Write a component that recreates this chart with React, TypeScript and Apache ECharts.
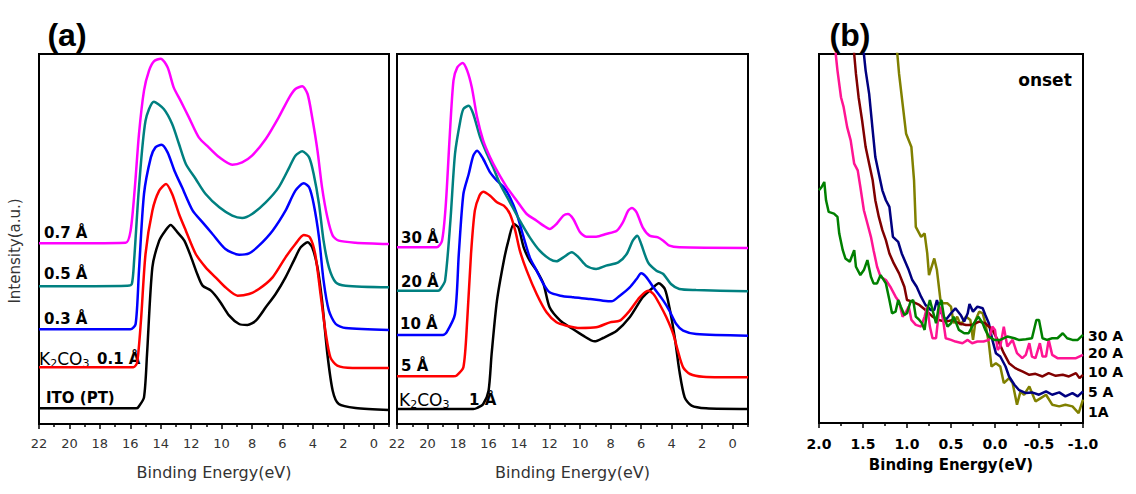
import React, { useEffect, useRef } from "react";
import * as echarts from "echarts";

// ---------- Panel (a) left: ITO / K2CO3 thin layers ----------
const A_07: number[][] = [[22,54.2],[16.3,54.4],[15.98,58],[15.7,71],[15.43,87],[15.1,100],[14.77,106],[14.45,108.8],[14.0,109.6],[13.55,107],[13.15,101],[12.7,97],[12.15,92],[11.5,86],[10.85,83],[10.15,80],[9.3,77.8],[8.65,78.5],[8.0,80.5],[7.1,85.5],[6.25,92],[5.55,98],[5.15,100.5],[4.7,101.3],[4.35,99],[4.05,92],[3.7,82],[3.4,71],[3.05,62],[2.7,56.5],[2.3,55],[1.2,54.4],[-1,54]];
const A_05: number[][] = [[22,41.3],[16.2,41.5],[15.9,42],[15.75,49],[15.43,71],[15.0,91],[14.45,96.7],[13.8,94.5],[13.25,90],[12.8,84],[12.35,78],[11.7,73.5],[11.05,69],[10.15,65],[9.3,62.5],[8.65,61.8],[8.0,63],[7.1,66.5],[6.25,71],[5.55,77],[5.15,80.5],[4.7,81.8],[4.25,80],[3.95,75],[3.6,66],[3.3,55],[2.95,47],[2.5,42.5],[1.85,41.5],[-1,41]];
const A_03: number[][] = [[22,28.4],[16.0,28.4],[15.65,30],[15.43,46],[15.1,69],[14.65,80],[14.35,83],[13.95,83.8],[13.55,81.5],[13.1,76],[12.6,71],[11.9,64],[11.25,60.5],[10.6,57],[9.75,52.5],[8.85,50.8],[8.2,51.2],[7.55,53.5],[6.65,58],[5.8,64],[5.15,70],[4.6,72.2],[4.25,71],[3.95,66],[3.6,56],[3.3,43],[2.95,34],[2.5,30],[1.85,28.8],[-1,28.2]];
const A_01: number[][] = [[22,17],[15.8,17],[15.55,18.5],[15.3,31],[15.0,51],[14.55,64],[14.1,70],[13.65,72],[13.25,69],[12.8,63],[12.35,58],[11.7,51],[11.05,47],[10.4,44],[9.75,41],[8.95,38.5],[8.2,39],[7.55,40.5],[6.65,44],[5.8,50],[5.15,54],[4.6,56.7],[4.2,56],[3.85,51],[3.5,39],[3.15,27],[2.85,20],[2.4,17.5],[1.4,16.8],[-1,16.8]];
const A_ITO: number[][] = [[22,4.7],[15.6,4.7],[15.45,5.2],[15.1,8],[14.9,21],[14.55,47],[14.1,55],[13.7,58],[13.35,59.7],[12.9,57.5],[12.45,55],[12.0,50],[11.6,45],[11.25,41.5],[10.7,40],[10.15,37],[9.5,32.5],[8.85,30],[8.3,29.7],[7.75,31],[7.1,35],[6.45,39],[5.8,44],[5.15,50],[4.8,53],[4.35,54.5],[4.05,53],[3.7,47],[3.4,37],[3.05,21],[2.7,10],[2.3,6],[1.2,4.8],[-1,4.2]];

// ---------- Panel (a) right: thick K2CO3 layers ----------
const B_30: number[][] = [[22,53],[19.4,53],[19.05,55],[18.8,66],[18.55,86],[18.3,103],[18.05,107],[17.7,108.3],[17.4,106],[17.1,101],[16.75,92],[16.35,85],[15.9,80],[15.45,76],[14.8,71],[14.15,67],[13.5,63],[12.85,61],[12.4,59.5],[12.0,58.5],[11.55,60],[11.1,62.5],[10.8,63],[10.45,61.5],[10.0,57.5],[9.6,56.2],[8.95,56.2],[8.3,57],[7.6,58],[7.2,60.5],[6.85,64],[6.6,64.8],[6.3,63.5],[5.9,59],[5.45,56.5],[4.9,56],[4.55,55],[4.15,53.5],[3.5,53],[-1,52.8]];
const B_20: number[][] = [[22,40],[19.3,40],[19.15,40.5],[18.85,43],[18.5,61],[18.2,81],[17.85,91],[17.65,94.5],[17.3,95.5],[17.0,93],[16.55,86],[16.1,81],[15.7,77],[15.25,72],[14.6,66.5],[13.95,61],[13.3,56],[12.65,52],[12.0,49.5],[11.55,48.8],[11.1,50],[10.55,51.5],[10.1,50],[9.6,47.5],[8.95,46.5],[8.3,47.5],[7.5,48.5],[6.95,51],[6.55,55],[6.25,56.5],[6.0,54],[5.55,48.5],[5.0,46],[4.55,45],[4.05,42],[3.5,40.5],[2.4,40.2],[-1,39.8]];
const B_10: number[][] = [[22,26.7],[19.0,26.7],[18.75,27.5],[18.2,33],[17.95,51],[17.65,69],[17.3,75],[17.0,80.5],[16.75,82],[16.35,79.5],[15.9,75.5],[15.45,73],[15.0,71],[14.6,68],[14.15,63],[13.7,56],[13.3,50],[12.85,46],[12.4,42],[12.0,39.5],[11.3,38.5],[10.45,38],[9.35,37.5],[8.5,37],[7.95,36.8],[7.4,38.5],[6.75,41],[6.3,43.5],[6.0,45.2],[5.65,44],[5.2,41],[4.55,37],[4.15,34],[3.7,30],[3.25,28],[2.4,27],[-1,26.5]];
const B_5: number[][] = [[22,14.3],[18.3,14.3],[18.1,14.5],[17.65,17],[17.4,31],[17.15,51],[16.9,64],[16.6,68.5],[16.35,69.7],[15.9,68.5],[15.45,66.5],[15.0,65.5],[14.6,63],[14.25,58],[13.95,52],[13.5,46],[12.85,39],[12.2,33.5],[11.55,30.5],[10.9,29.5],[10.0,28.8],[8.95,29],[8.05,30.5],[7.4,31],[6.75,34],[6.1,38],[5.55,40],[5.2,39],[4.8,36],[4.35,32],[3.9,27],[3.6,22],[3.25,17],[2.8,15],[1.95,14.2],[-1,14]];
const B_1: number[][] = [[22,4.5],[17,4.5],[16.75,4.8],[16.35,6],[16.0,10],[15.8,21],[15.45,37],[15.0,49],[14.7,55],[14.35,60],[14.05,59],[13.7,53],[13.3,49],[12.85,46],[12.4,42],[12.0,35],[11.3,31],[10.65,29],[9.8,26.5],[9.05,24.8],[8.5,25.8],[7.6,28],[6.75,32],[5.9,38],[5.2,41],[4.85,42.2],[4.45,40.5],[4.15,35],[3.8,26],[3.5,16],[3.15,8],[2.7,5.5],[1.75,4.7],[-1,4.5]];

// ---------- Panel (b): onset region ----------
const C_1: number[][] = [[1.14,118],[1.11,111],[1.09,105],[1.05,96],[1.01,87],[0.95,83],[0.92,73],[0.90,59],[0.84,56],[0.80,57],[0.77,51],[0.75,44.5],[0.69,49.5],[0.66,46],[0.62,37],[0.59,36],[0.54,36],[0.50,35],[0.47,30],[0.43,32],[0.39,29.5],[0.33,32],[0.28,31],[0.25,25],[0.22,31],[0.18,33.5],[0.14,33],[0.11,30],[0.07,24],[0.04,17],[-0.01,18],[-0.06,17],[-0.10,12],[-0.16,13.5],[-0.20,12],[-0.25,5.5],[-0.29,9.5],[-0.33,8.5],[-0.39,11],[-0.46,6.5],[-0.52,7.5],[-0.58,8.5],[-0.65,5.5],[-0.73,5],[-0.80,5.5],[-0.88,5],[-0.95,3],[-1.0,7]];
const C_5: number[][] = [[1.52,120],[1.49,111],[1.47,106],[1.43,99],[1.39,88],[1.36,80],[1.32,75],[1.28,70],[1.24,67],[1.20,65],[1.16,56],[1.10,54.5],[1.06,51],[1.02,48.5],[0.98,46],[0.94,43],[0.89,41],[0.84,38],[0.79,35.5],[0.73,34],[0.69,34],[0.66,37],[0.62,33.5],[0.56,31],[0.50,33],[0.45,34.5],[0.39,32.5],[0.35,30.5],[0.31,33],[0.29,35.8],[0.25,33.5],[0.20,35],[0.14,34.5],[0.11,32.5],[0.07,30],[0.03,25],[-0.01,21],[-0.06,20],[-0.12,17],[-0.16,14],[-0.22,11.5],[-0.27,10],[-0.35,9],[-0.42,9.2],[-0.50,8.5],[-0.58,9.5],[-0.65,8.5],[-0.73,9.2],[-0.80,8],[-0.88,9],[-0.94,8],[-1.0,9.5]];
const C_10: number[][] = [[1.63,120],[1.60,111],[1.58,105],[1.55,98],[1.51,91],[1.47,83],[1.43,78],[1.39,73],[1.36,67],[1.32,62],[1.28,58],[1.24,55],[1.20,51],[1.15,48],[1.09,45],[1.03,41],[1.0,37],[0.94,36.5],[0.86,35.5],[0.79,34],[0.71,32],[0.64,31],[0.56,30.5],[0.48,31],[0.41,30],[0.33,29.5],[0.26,29.5],[0.18,30.5],[0.11,30],[0.03,28],[-0.05,24],[-0.10,21],[-0.16,18],[-0.23,16.5],[-0.31,15.5],[-0.39,14.5],[-0.46,14.8],[-0.54,14],[-0.61,15],[-0.69,14.2],[-0.77,14.5],[-0.84,14],[-0.92,15],[-0.96,13.5],[-1.0,14.5]];
const C_20: number[][] = [[1.84,120],[1.81,111],[1.79,106],[1.75,98],[1.72,95],[1.68,89],[1.64,85],[1.60,78],[1.56,76],[1.53,71],[1.49,64],[1.45,60],[1.41,56],[1.38,52],[1.34,47],[1.30,44],[1.24,43],[1.19,41],[1.13,38],[1.09,36.5],[1.05,32],[1.02,33],[0.98,35],[0.95,31],[0.90,29.5],[0.84,29],[0.80,32],[0.77,35],[0.74,29],[0.71,25.5],[0.67,25.5],[0.64,33],[0.62,35],[0.59,31],[0.56,25.5],[0.50,25],[0.45,24.5],[0.37,24],[0.31,25],[0.26,24],[0.20,24.5],[0.13,24.5],[0.07,25],[0.03,29],[0.0,28],[-0.03,22],[-0.06,23],[-0.10,29],[-0.14,23],[-0.20,25],[-0.25,21],[-0.31,19.5],[-0.35,20.5],[-0.39,24],[-0.42,20],[-0.46,19.5],[-0.51,24],[-0.54,20],[-0.58,20],[-0.61,25],[-0.65,20.5],[-0.71,19.5],[-0.77,19.5],[-0.84,19.5],[-0.92,19.5],[-1.0,20.5]];
const C_30: number[][] = [[2.0,70],[1.97,71],[1.94,72.5],[1.92,67],[1.89,63.5],[1.83,63],[1.79,62],[1.77,57],[1.73,52],[1.70,49.5],[1.65,48.5],[1.60,52],[1.58,47],[1.53,44.5],[1.49,46],[1.45,49],[1.41,44],[1.38,42],[1.34,42],[1.30,44.5],[1.24,42],[1.20,37],[1.17,33],[1.13,33.5],[1.10,37],[1.07,35],[1.03,32.5],[1.0,33],[0.96,36.5],[0.93,37],[0.90,32],[0.86,31],[0.83,30],[0.80,28],[0.77,34],[0.74,37],[0.69,32],[0.67,30],[0.64,35],[0.61,37],[0.58,32],[0.54,29],[0.50,30],[0.47,32],[0.41,28],[0.35,27],[0.30,27],[0.24,30],[0.19,32],[0.14,30],[0.11,28],[0.07,26],[0.01,25],[-0.06,25],[-0.14,26],[-0.22,25.5],[-0.27,25],[-0.35,25.2],[-0.42,25.5],[-0.47,31],[-0.50,31],[-0.54,25.5],[-0.59,25],[-0.65,25.5],[-0.71,25.5],[-0.77,27],[-0.82,25.5],[-0.88,25],[-0.94,25],[-1.0,26.5]];

// ---------- tick values & labels ----------
const MAJOR_TICKS = [0, 2, 4, 6, 8, 10, 12, 14, 16, 18, 20, 22];
const MINOR_TICKS = [-1, 1, 3, 5, 7, 9, 11, 13, 15, 17, 19, 21];
const X_NAME = "Binding Energy(eV)";
const Y_NAME = "Intensity(a.u.)";
const LEFT_LABELS = ["0.7 Å", "0.5 Å", "0.3 Å", "0.1 Å", "ITO (PT)"];
const MID_LABELS = ["30 Å", "20 Å", "10 Å", "5 Å", "1 Å"];
const RIGHT_LABELS = ["30 A", "20 A", "10 A", "5 A", "1A"];

const COLORS_A = ["#ff00ff", "#008080", "#0000ff", "#ff0000", "#000000"];
const COLORS_B = ["#008000", "#ff1493", "#800000", "#000080", "#808000"];

const SANS = "DejaVu Sans";
const ARIAL = "Liberation Sans";

function majorAxis(grid: number) {
  return {
    type: "value", gridIndex: grid, inverse: true, min: -1, max: 22, position: "bottom",
    axisLine: { show: true, onZero: false, lineStyle: { color: "#000", width: 2 } },
    axisTick: { show: true, customValues: MAJOR_TICKS, length: 5, lineStyle: { color: "#000", width: 1.5 } },
    axisLabel: { show: true, customValues: MAJOR_TICKS, color: "#333", fontSize: 13, fontFamily: SANS, margin: 13 },
    splitLine: { show: false },
    name: X_NAME, nameLocation: "middle", nameGap: 40,
    nameTextStyle: { color: "#333", fontSize: 16, fontFamily: SANS },
  };
}
function minorAxis(grid: number) {
  return {
    type: "value", gridIndex: grid, inverse: true, min: -1, max: 22, position: "bottom",
    axisLine: { show: false, onZero: false },
    axisTick: { show: true, customValues: MINOR_TICKS, length: 3, lineStyle: { color: "#000", width: 1.5 } },
    axisLabel: { show: false },
    splitLine: { show: false },
  };
}

function line(data: number[][], color: string, x: number, y: number, smooth: number | boolean) {
  return {
    type: "line", data, xAxisIndex: x, yAxisIndex: y, showSymbol: false, symbol: "none",
    smooth, lineStyle: { color, width: 2.5 }, clip: true, silent: true,
  };
}

function txt(x: number, y: number, text: string, opts: any = {}) {
  return {
    type: "text", x, y, silent: true, rotation: opts.rotation || 0,
    style: {
      text, fill: opts.color || "#000",
      fontSize: opts.size || 15, fontWeight: opts.weight || "bold",
      fontFamily: opts.family || SANS,
      align: opts.align || "left", verticalAlign: "middle",
      textAlign: opts.align || "left", textVerticalAlign: "middle",
      rich: opts.rich,
    },
  };
}

const K2CO3_RICH = {
  n: { fontSize: 17, fontFamily: SANS, fontWeight: "normal", fill: "#000" },
  s: { fontSize: 11, fontFamily: SANS, fontWeight: "normal", fill: "#000", padding: [9, 0, 0, 0] },
};

export default function App() {
  const ref = useRef<HTMLDivElement>(null);
  useEffect(() => {
    const chart = echarts.init(ref.current!, null, { renderer: "svg" });
    const gridBase = { show: true, borderColor: "#000", borderWidth: 2, backgroundColor: "transparent", containLabel: false };
    const option: any = {
      animation: false,
      backgroundColor: "#fff",
      grid: [
        { ...gridBase, left: 39, top: 54, width: 350, height: 370 },
        { ...gridBase, left: 397, top: 54, width: 351, height: 370 },
        { ...gridBase, left: 819, top: 54, width: 264, height: 369 },
      ],
      xAxis: [
        majorAxis(0), minorAxis(0), majorAxis(1), minorAxis(1),
        {
          type: "value", gridIndex: 2, inverse: true, min: -1, max: 2, interval: 0.5, position: "bottom",
          axisLine: { show: true, onZero: false, lineStyle: { color: "#000", width: 2 } },
          axisTick: { show: true, length: 5, lineStyle: { color: "#000", width: 1.5 } },
          minorTick: { show: true, splitNumber: 2, length: 3, lineStyle: { color: "#000", width: 1.5 } },
          axisLabel: { show: true, color: "#000", fontSize: 14, fontWeight: "bold", fontFamily: SANS, margin: 14,
            formatter: (v: number) => v.toFixed(1), showMinLabel: true, showMaxLabel: true },
          splitLine: { show: false }, minorSplitLine: { show: false },
          name: X_NAME, nameLocation: "middle", nameGap: 34,
          nameTextStyle: { color: "#000", fontSize: 15, fontWeight: "bold", fontFamily: SANS },
        },
      ],
      yAxis: [0, 1, 2].map((g) => ({ type: "value", gridIndex: g, min: 0, max: 111, show: false })),
      series: [
        line(A_ITO, COLORS_A[4], 0, 0, 0.25),
        line(A_01, COLORS_A[3], 0, 0, 0.25),
        line(A_03, COLORS_A[2], 0, 0, 0.25),
        line(A_05, COLORS_A[1], 0, 0, 0.25),
        line(A_07, COLORS_A[0], 0, 0, 0.25),
        line(B_1, COLORS_A[4], 2, 1, 0.25),
        line(B_5, COLORS_A[3], 2, 1, 0.25),
        line(B_10, COLORS_A[2], 2, 1, 0.25),
        line(B_20, COLORS_A[1], 2, 1, 0.25),
        line(B_30, COLORS_A[0], 2, 1, 0.25),
        line(C_1, COLORS_B[4], 4, 2, false),
        line(C_5, COLORS_B[3], 4, 2, false),
        line(C_10, COLORS_B[2], 4, 2, false),
        line(C_20, COLORS_B[1], 4, 2, false),
        line(C_30, COLORS_B[0], 4, 2, false),
      ],
      graphic: [
        txt(67, 35, "(a)", { size: 32, family: ARIAL, align: "center" }),
        txt(850, 35, "(b)", { size: 32, family: ARIAL, align: "center" }),
        txt(15, 251, Y_NAME, { size: 15, weight: "normal", color: "#333", align: "center", rotation: Math.PI / 2 }),
        txt(44, 233, LEFT_LABELS[0]),
        txt(44, 274, LEFT_LABELS[1]),
        txt(44, 319, LEFT_LABELS[2]),
        txt(39, 359, "{n|K}{s|2}{n|CO}{s|3}", { rich: K2CO3_RICH, weight: "normal", size: 17 }),
        txt(97, 359, LEFT_LABELS[3]),
        txt(46, 398, LEFT_LABELS[4]),
        txt(401, 238, MID_LABELS[0]),
        txt(401, 282, MID_LABELS[1]),
        txt(400, 324, MID_LABELS[2]),
        txt(401, 366, MID_LABELS[3]),
        txt(399, 400, "{n|K}{s|2}{n|CO}{s|3}", { rich: K2CO3_RICH, weight: "normal", size: 17 }),
        txt(469, 400, MID_LABELS[4]),
        txt(1045, 80, "onset", { size: 17, align: "center" }),
        txt(1088, 336, RIGHT_LABELS[0], { size: 14 }),
        txt(1088, 353, RIGHT_LABELS[1], { size: 14 }),
        txt(1088, 372, RIGHT_LABELS[2], { size: 14 }),
        txt(1088, 392, RIGHT_LABELS[3], { size: 14 }),
        txt(1088, 412, RIGHT_LABELS[4], { size: 14 }),
      ],
    };
    chart.setOption(option);
    return () => chart.dispose();
  }, []);
  return <div ref={ref} style={{ position: "fixed", left: 0, top: 0, width: 1136, height: 494 }} />;
}
